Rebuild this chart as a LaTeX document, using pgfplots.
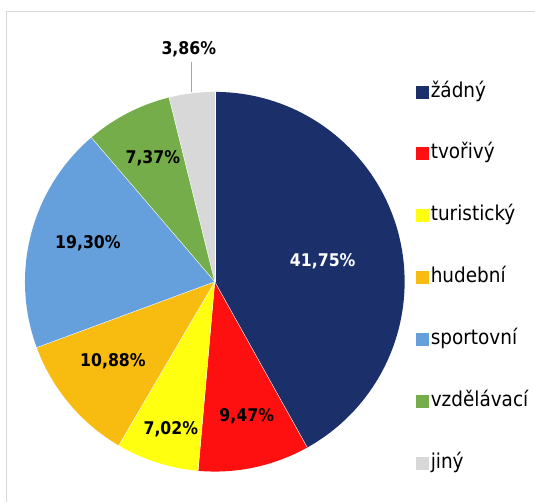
\documentclass[border=0pt]{standalone}
\usepackage{pgfplots}
\pgfplotsset{compat=1.18}
\usepackage{fontspec}
\setmainfont{DejaVu Sans Condensed}
\definecolor{cNavy}{HTML}{1B2F6B}
\definecolor{cRed}{HTML}{FF1010}
\definecolor{cYellow}{HTML}{FFFF10}
\definecolor{cOrange}{HTML}{F8BC10}
\definecolor{cBlue}{HTML}{66A0DC}
\definecolor{cGreen}{HTML}{74AD4A}
\definecolor{cGray}{HTML}{D8D8D8}
\definecolor{cFrame}{HTML}{D9D9D9}
% start (cumulative %), share (%), colour; total 99.65
\newcommand\pieslice[3]{%
  \fill[#3] (axis cs:215,220) -- ++({90-#1/99.65*360}:190bp)
    arc[start angle={90-#1/99.65*360}, delta angle={-#2/99.65*360}, radius=190bp] -- cycle;
  \draw[white, line width=0.4pt] (axis cs:215,220) -- ++({90-#1/99.65*360}:190bp);}
\pgfplotsset{sq legend/.style={legend image code/.code={\fill[##1, draw=none] (0bp,-6.5bp) rectangle (13bp,6.5bp);}}}
\begin{document}
\begin{tikzpicture}
\begin{axis}[
  width=535bp, height=502bp, scale only axis,
  xmin=0, xmax=535, ymin=0, ymax=502,
  hide axis, clip=false,
  legend style={draw=none, fill=none, at={(0.772,0.446)}, anchor=west,
    font=\fontsize{20.5bp}{24bp}\selectfont, cells={anchor=west},
    nodes={inner sep=0pt, text height=15bp, text depth=5bp},
    row sep=42bp, /tikz/every odd column/.append style={column sep=2bp}},
]
\path (axis cs:0,0) rectangle (axis cs:535,502);
\draw[cFrame, line width=1pt] (axis cs:7,0) -- (axis cs:7,490) -- (axis cs:535,490);
\addlegendimage{sq legend, fill=cNavy}\addlegendentry{žádný}
\addlegendimage{sq legend, fill=cRed}\addlegendentry{tvořivý}
\addlegendimage{sq legend, fill=cYellow}\addlegendentry{turistický}
\addlegendimage{sq legend, fill=cOrange}\addlegendentry{hudební}
\addlegendimage{sq legend, fill=cBlue}\addlegendentry{sportovní}
\addlegendimage{sq legend, fill=cGreen}\addlegendentry{vzdělávací}
\addlegendimage{sq legend, fill=cGray}\addlegendentry{jiný}
\pieslice{0}{41.75}{cNavy}
\pieslice{41.75}{9.47}{cRed}
\pieslice{51.22}{7.02}{cYellow}
\pieslice{58.24}{10.88}{cOrange}
\pieslice{69.12}{19.30}{cBlue}
\pieslice{88.42}{7.37}{cGreen}
\pieslice{95.79}{3.86}{cGray}
\draw[gray!70, line width=0.8pt] (axis cs:192,440) -- (axis cs:192,410);
\begin{scope}[every node/.style={font=\fontsize{17.5bp}{20bp}\selectfont\bfseries}]
\node[white] at (axis cs:323,241) {41,75\%};
\node at (axis cs:247,85) {9,47\%};
\node at (axis cs:171,72) {7,02\%};
\node at (axis cs:113,140) {10,88\%};
\node at (axis cs:88,259) {19,30\%};
\node at (axis cs:153,344) {7,37\%};
\node at (axis cs:189,453) {3,86\%};
\end{scope}
\end{axis}
\end{tikzpicture}
\end{document}
